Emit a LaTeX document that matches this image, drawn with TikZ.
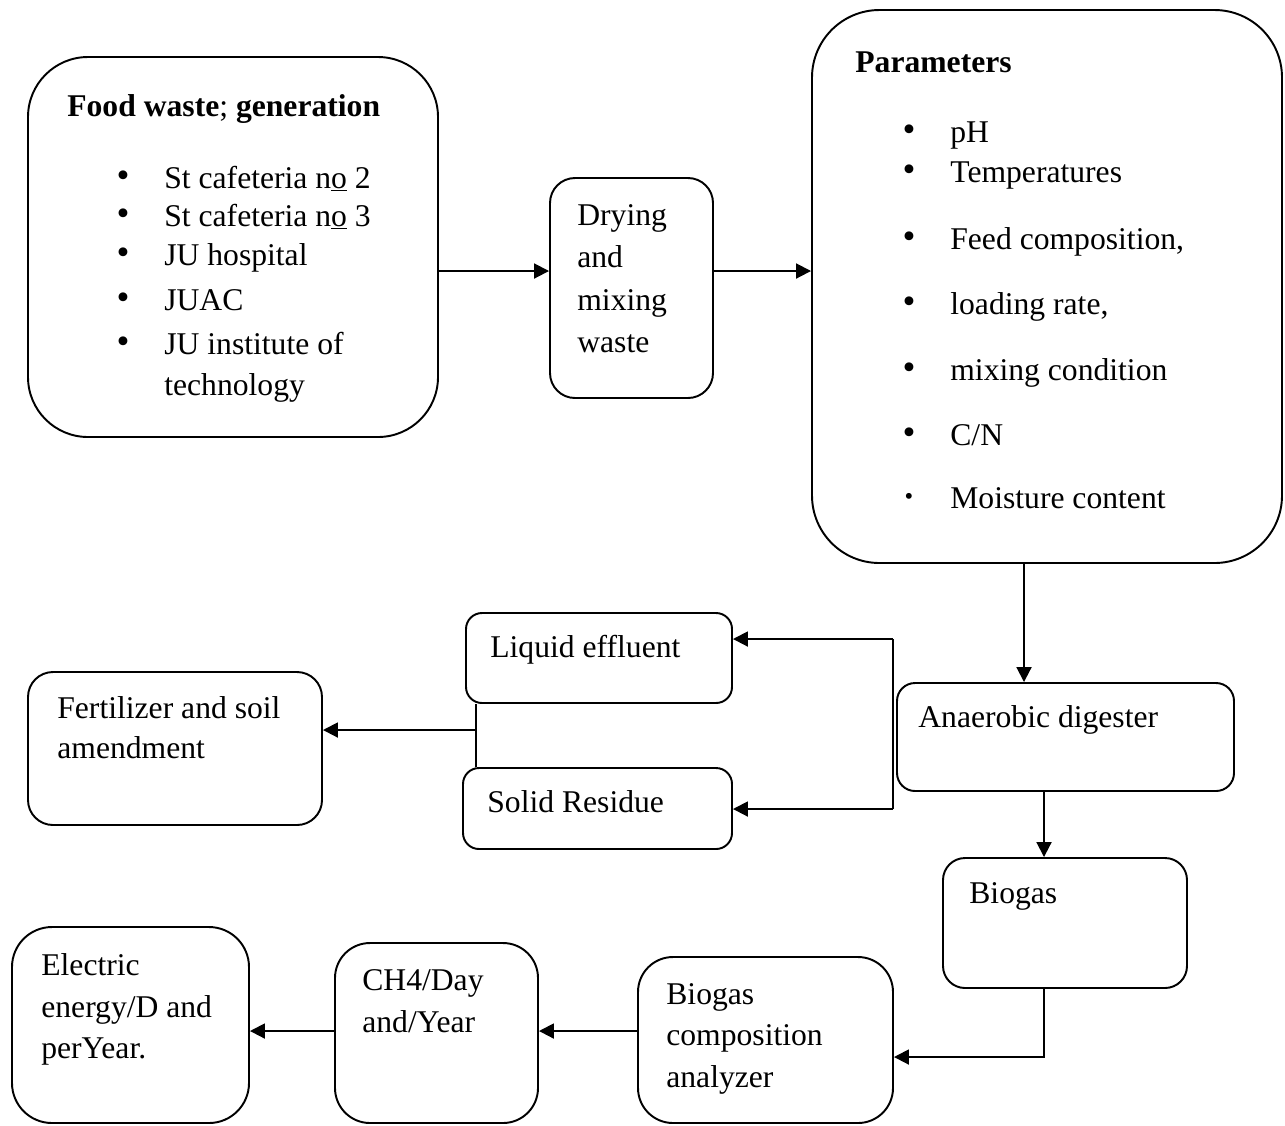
\documentclass[tikz,border=0pt]{standalone}
\usepackage{fontspec}
\setmainfont{Liberation Serif}
\usepackage{tikz}
\usetikzlibrary{arrows.meta,fit}

\tikzset{
  box/.style={draw, line width=1.1pt, rounded corners=#1, inner sep=0pt},
  txt/.style={anchor=base west, inner sep=0pt, font=\fontsize{18}{22}\selectfont},
  dot/.style={inner sep=0pt, font=\fontsize{21}{21}\selectfont},
  arr/.style={line width=1.1pt, -{Triangle[length=3mm,width=3mm]}},
  link/.style={line width=1.1pt}
}

\begin{document}
\begin{tikzpicture}[x=0.2mm, y=-0.2mm]
        \useasboundingbox (0,0) rectangle (1285,1125);

        % boxes
        \node[box=12mm, fit={(28,57) (438,437)}] (food) {};
        \node[box=5mm, fit={(550,178) (713,398)}] (dry) {};
        \node[box=13.5mm, fit={(812,10) (1282,563)}] (par) {};
        \node[box=3.2mm, fit={(466,613) (732,703)}] (liq) {};
        \node[box=3.2mm, fit={(463,768) (732,849)}] (sol) {};
        \node[box=5mm, fit={(28,672) (322,825)}] (fert) {};
        \node[box=3.6mm, fit={(897,683) (1234,791)}] (dig) {};
        \node[box=4.4mm, fit={(943,858) (1187,988)}] (bio) {};
        \node[box=7mm, fit={(638,957) (893,1123)}] (ana) {};
        \node[box=7mm, fit={(335,943) (538,1123)}] (ch4) {};
        \node[box=8mm, fit={(12,927) (249,1123)}] (ele) {};

        % food waste
        \node[txt] (food-t) at (67,116) {\textbf{Food waste}; \textbf{generation}};
        \node[dot] (food-b1) at (123,179) {•};
        \node[dot] (food-b2) at (123,217) {•};
        \node[dot] (food-b3) at (123,256) {•};
        \node[dot] (food-b4) at (123,301) {•};
        \node[dot] (food-b5) at (123,345) {•};
        \node[txt] (food-1) at (164,188) {St cafeteria n\underline{o} 2};
        \node[txt] (food-2) at (164,226) {St cafeteria n\underline{o} 3};
        \node[txt] (food-3) at (164,265) {JU hospital};
        \node[txt] (food-4) at (164,310) {JUAC};
        \node[txt] (food-5) at (164,354) {JU institute of};
        \node[txt] (food-6) at (164,395) {technology};

        % drying
        \node[txt] (dry-1) at (577,225) {Drying};
        \node[txt] (dry-2) at (577,267) {and};
        \node[txt] (dry-3) at (577,310) {mixing};
        \node[txt] (dry-4) at (577,352) {waste};

        % parameters
        \node[txt] (par-t) at (855,72) {\textbf{Parameters}};
        \node[dot] (par-b1) at (909,133) {•};
        \node[dot] (par-b2) at (909,173) {•};
        \node[dot] (par-b3) at (909,240) {•};
        \node[dot] (par-b4) at (909,305) {•};
        \node[dot] (par-b5) at (909,371) {•};
        \node[dot] (par-b6) at (909,436) {•};
        \node[dot, font=\fontsize{14}{14}\selectfont] (par-b7) at (909,499) {•};
        \node[txt] (par-1) at (950,142) {pH};
        \node[txt] (par-2) at (950,182) {Temperatures};
        \node[txt] (par-3) at (950,249) {Feed composition,};
        \node[txt] (par-4) at (950,314) {loading rate,};
        \node[txt] (par-5) at (950,380) {mixing condition};
        \node[txt] (par-6) at (950,445) {C/N};
        \node[txt] (par-7) at (950,508) {Moisture content};

        % lower boxes
        \node[txt] (liq-1) at (490,657) {Liquid effluent};
        \node[txt] (sol-1) at (487,812) {Solid Residue};
        \node[txt] (fert-1) at (57,718) {Fertilizer and soil};
        \node[txt] (fert-2) at (57,758) {amendment};
        \node[txt] (dig-1) at (918,727) {Anaerobic digester};
        \node[txt] (bio-1) at (969,903) {Biogas};
        \node[txt] (ana-1) at (666,1004) {Biogas};
        \node[txt] (ana-2) at (666,1045) {composition};
        \node[txt] (ana-3) at (666,1087) {analyzer};
        \node[txt] (ch4-1) at (362,990) {CH4/Day};
        \node[txt] (ch4-2) at (362,1032) {and/Year};
        \node[txt] (ele-1) at (41,975) {Electric};
        \node[txt] (ele-2) at (41,1017) {energy/D and};
        \node[txt] (ele-3) at (41,1058) {perYear.};

        % connectors
        \coordinate (r1) at (0,271);
        \coordinate (r2) at (0,639);
        \coordinate (r3) at (0,809);
        \coordinate (r4) at (0,730);
        \coordinate (r5) at (0,1057);
        \coordinate (r6) at (0,1031);
        \coordinate (c1) at (1024,0);
        \coordinate (c2) at (476,0);
        \coordinate (c3) at (1044,0);
        \coordinate (sp) at (893,0);

        \draw[arr] (food.east |- r1) -- (dry.west |- r1);
        \draw[arr] (dry.east |- r1) -- (par.west |- r1);
        \draw[arr] (par.south -| c1) -- (dig.north -| c1);
        \draw[link] (sp |- r2) -- (sp |- r3);
        \draw[arr] (sp |- r2) -- (liq.east |- r2);
        \draw[arr] (sp |- r3) -- (sol.east |- r3);
        \draw[link] (liq.south -| c2) -- (sol.north -| c2);
        \draw[arr] (c2 |- r4) -- (fert.east |- r4);
        \draw[arr] (dig.south -| c3) -- (bio.north -| c3);
        \draw[arr] (bio.south -| c3) |- (ana.east |- r5);
        \draw[arr] (ana.west |- r6) -- (ch4.east |- r6);
        \draw[arr] (ch4.west |- r6) -- (ele.east |- r6);
    \end{tikzpicture}
\end{document}
